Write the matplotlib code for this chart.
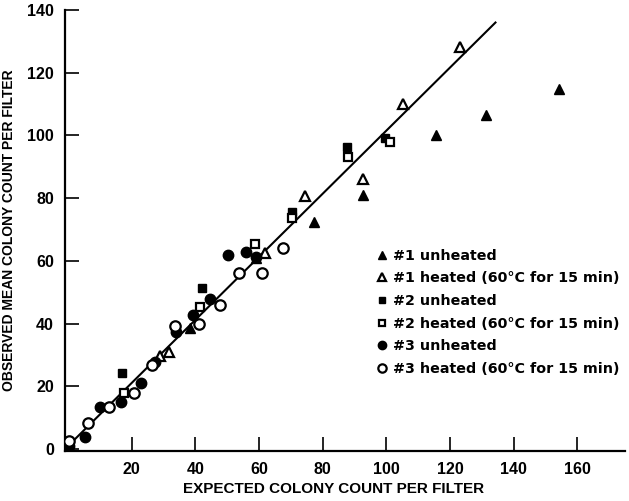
import matplotlib
matplotlib.use('Agg')
import matplotlib.pyplot as plt

# data
u1_x = [38.3, 59.0, 77.2, 92.7, 115.5, 131.4, 154.2]
u1_y = [38.5, 61.0, 72.5, 81.0, 100.1, 106.5, 114.7]
h1_x = [29.0, 31.6, 61.8, 74.4, 92.7, 105.1, 123.2]
h1_y = [29.7, 31.0, 62.5, 80.7, 86.0, 110.0, 128.3]
u2_x = [17.0, 42.0, 70.5, 87.5, 99.5]
u2_y = [24.2, 51.2, 75.7, 96.2, 99.3]
h2_x = [17.4, 41.4, 58.6, 70.5, 88.0, 101.1]
h2_y = [18.0, 45.2, 65.5, 73.6, 93.0, 98.0]
u3_x = [0.4, 5.3, 10.0, 16.5, 22.8, 27.3, 33.8, 39.1, 44.6, 50.3, 55.9, 59.0]
u3_y = [1.0, 3.7, 13.3, 14.9, 21.1, 27.8, 37.4, 42.7, 47.8, 61.9, 62.9, 61.1]
h3_x = [0.4, 6.1, 12.9, 20.7, 26.5, 33.6, 41.2, 47.7, 53.8, 60.8, 67.4]
h3_y = [2.6, 8.2, 13.3, 18.0, 26.8, 39.2, 39.9, 45.9, 56.2, 56.0, 64.0]
fit_x = [0, 134.3]
fit_y = [1.0, 136.0]

x_ticks = [20, 40, 60, 80, 100, 120, 140, 160]
y_ticks = [0, 20, 40, 60, 80, 100, 120, 140]

labels = ['#1 unheated', '#1 heated (60°C for 15 min)',
          '#2 unheated', '#2 heated (60°C for 15 min)',
          '#3 unheated', '#3 heated (60°C for 15 min)']

plt.rcParams['font.family'] = ['Liberation Sans', 'DejaVu Sans']
plt.rcParams['font.weight'] = 'bold'

fig = plt.figure(figsize=(6.29, 5.01), dpi=100)
ax = fig.add_axes([0.1033, 0.1006, 0.8903, 0.8795])

ax.plot(fit_x, fit_y, color='black', linewidth=1.5, zorder=1)

ms = 7
mew = 1.6
ax.plot(u1_x, u1_y, '^', color='black', ms=ms, label=labels[0], zorder=3)
ax.plot(h1_x, h1_y, '^', mfc='white', mec='black', mew=mew, ms=ms, label=labels[1], zorder=3)
ax.plot(u2_x, u2_y, 's', color='black', ms=ms - 1, label=labels[2], zorder=3)
ax.plot(h2_x, h2_y, 's', mfc='white', mec='black', mew=mew, ms=ms - 1, label=labels[3], zorder=3)
ax.plot(u3_x, u3_y, 'o', color='black', ms=ms + 0.5, label=labels[4], zorder=3)
ax.plot(h3_x, h3_y, 'o', mfc='white', mec='black', mew=mew, ms=ms + 0.5, label=labels[5], zorder=3)

ax.set_xlim(-1, 175)
ax.set_ylim(-0.5, 140)
ax.set_xticks(x_ticks)
ax.set_yticks(y_ticks)
ax.tick_params(direction='in', length=10, width=1.2, labelsize=11.5, pad=8)
for lab in ax.get_xticklabels() + ax.get_yticklabels():
    lab.set_fontweight('heavy')

ax.spines['top'].set_visible(False)
ax.spines['right'].set_visible(False)
ax.spines['left'].set_linewidth(1.6)
ax.spines['bottom'].set_linewidth(1.6)

ax.set_xlabel('EXPECTED COLONY COUNT PER FILTER', fontsize=11, fontweight='bold')
ax.xaxis.set_label_coords(0.48, -0.072)
ax.set_ylabel('OBSERVED MEAN COLONY COUNT PER FILTER', fontsize=10, fontweight='bold', labelpad=8)

leg = ax.legend(loc='upper left', bbox_to_anchor=(0.53, 0.487), frameon=False,
                prop={'family': 'DejaVu Sans', 'weight': 'bold', 'size': 10.3},
                handletextpad=0.3, labelspacing=0.6, handlelength=1,
                markerscale=0.8)

fig.savefig('out.png', dpi=100)
